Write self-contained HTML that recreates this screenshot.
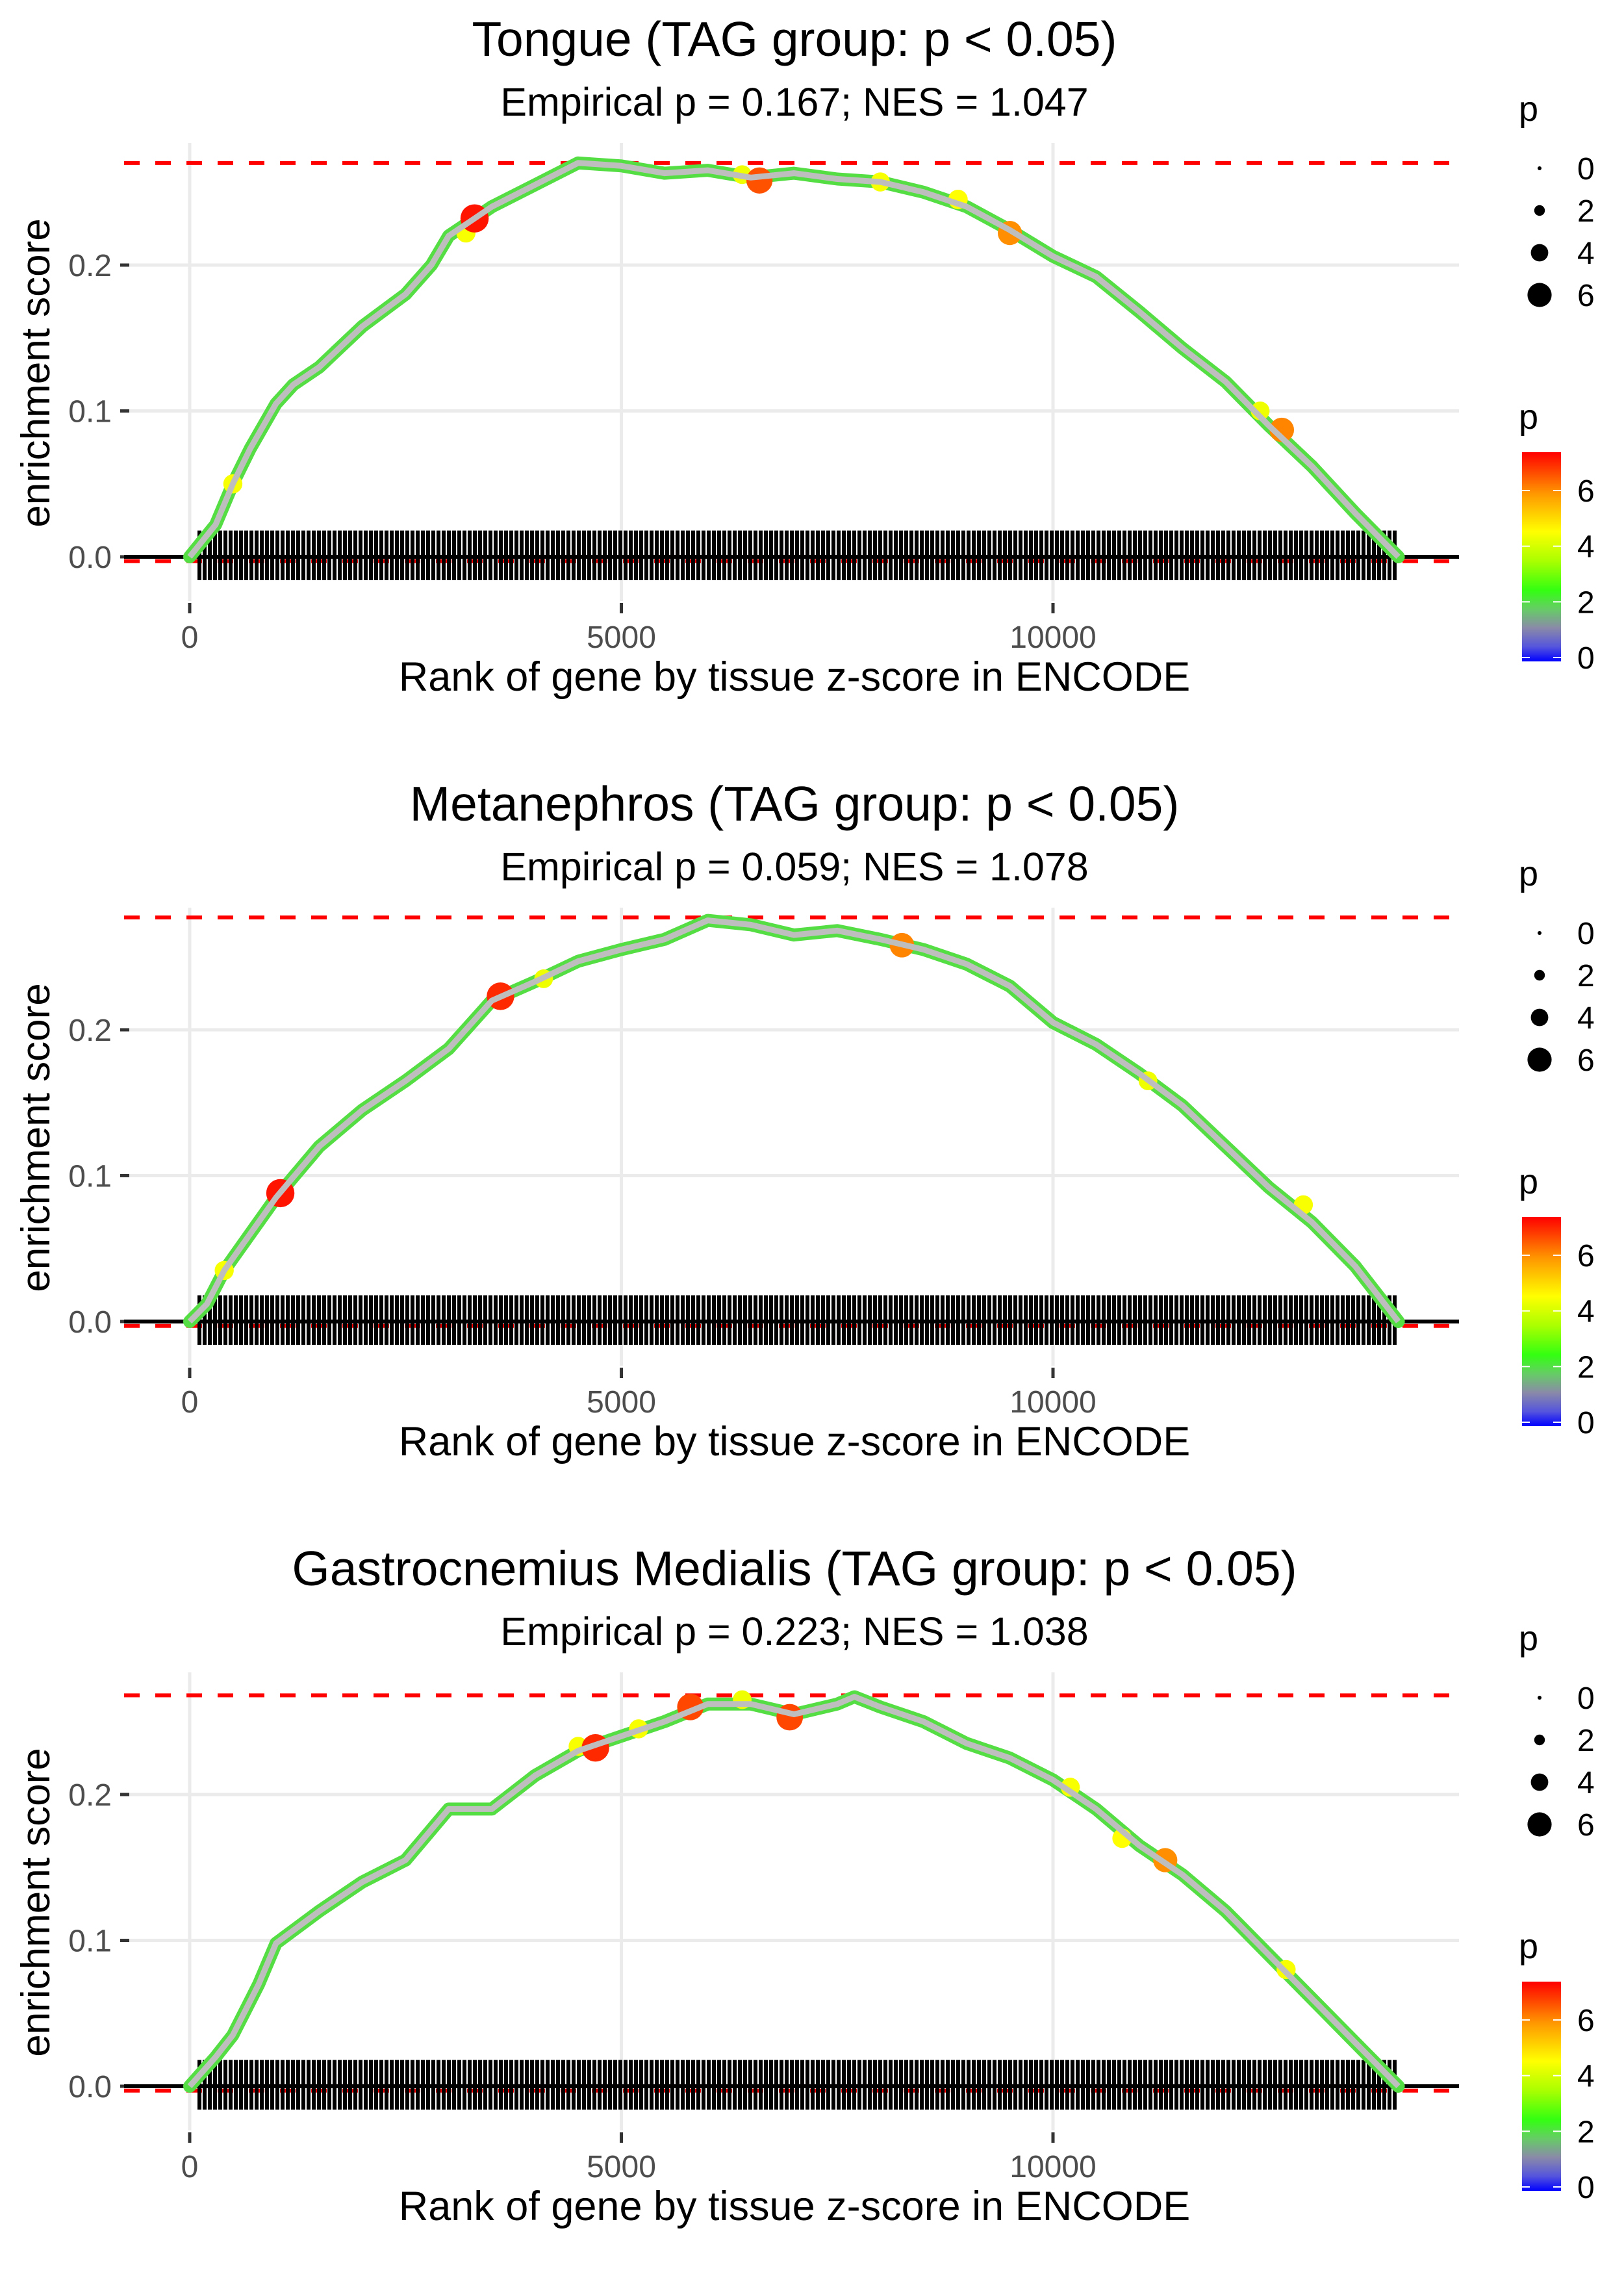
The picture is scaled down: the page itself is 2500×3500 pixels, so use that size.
<!DOCTYPE html>
<html><head><meta charset="utf-8"><style>
html,body{margin:0;padding:0;background:#fff;}
svg{display:block;font-family:"Liberation Sans",sans-serif;}
</style></head><body>
<svg id="fig" width="2500" height="3500" viewBox="0 0 2500 3500" xmlns="http://www.w3.org/2000/svg">
<defs>
<linearGradient id="pgrad" x1="0" y1="1" x2="0" y2="0">
<stop offset="0" stop-color="#0000ff"/>
<stop offset="0.07" stop-color="#5555dd"/>
<stop offset="0.16" stop-color="#8a8aa8"/>
<stop offset="0.25" stop-color="#66cc66"/>
<stop offset="0.34" stop-color="#33ff11"/>
<stop offset="0.48" stop-color="#aaff00"/>
<stop offset="0.62" stop-color="#ffff00"/>
<stop offset="0.8" stop-color="#ff9900"/>
<stop offset="1" stop-color="#ff0000"/>
</linearGradient>
<pattern id="rugpat" width="8" height="10" patternUnits="userSpaceOnUse">
<rect x="0" y="0" width="6" height="10" fill="#000"/>
</pattern>
</defs>
</svg>
<script>
// ---- data ----
const panelTitles = ["Tongue (TAG group: p < 0.05)","Metanephros (TAG group: p < 0.05)","Gastrocnemius Medialis (TAG group: p < 0.05)"];
const panelSubtitles = ["Empirical p = 0.167; NES = 1.047","Empirical p = 0.059; NES = 1.078","Empirical p = 0.223; NES = 1.038"];
const maxES = [0.270, 0.277, 0.268];
const minES = [-0.003, -0.003, -0.003];
const ranks1 = [0,300,500,700,1000,1200,1500,2000,2500,2800,3000,3300,3500,4000,4500,5000,5500,6000,6500,7000,7500,8000,8500,9000,9500,10000,10500,11000,11500,12000,12500,13000,13500,14000];
const es1 = [0,0.022,0.05,0.074,0.105,0.118,0.13,0.158,0.18,0.2,0.22,0.232,0.24,0.255,0.27,0.268,0.263,0.265,0.26,0.263,0.259,0.257,0.25,0.24,0.224,0.206,0.192,0.168,0.143,0.12,0.09,0.062,0.03,0];
const ranks2 = [0,200,400,700,1000,1500,2000,2500,3000,3500,4000,4500,5000,5500,6000,6500,7000,7500,8000,8500,9000,9500,10000,10500,11000,11500,12000,12500,13000,13500,14000];
const es2 = [0,0.012,0.035,0.06,0.085,0.12,0.145,0.165,0.187,0.22,0.233,0.247,0.255,0.262,0.275,0.272,0.265,0.268,0.262,0.255,0.245,0.23,0.205,0.19,0.17,0.148,0.12,0.092,0.068,0.038,0];
const ranks3 = [0,300,500,800,1000,1500,2000,2500,3000,3500,4000,4500,5000,5500,6000,6500,7000,7500,7700,8000,8500,9000,9500,10000,10500,11000,11500,12000,12500,13000,13500,14000];
const es3 = [0,0.02,0.035,0.07,0.098,0.12,0.14,0.155,0.19,0.19,0.213,0.23,0.24,0.25,0.262,0.262,0.255,0.262,0.267,0.26,0.25,0.235,0.225,0.21,0.19,0.165,0.145,0.12,0.09,0.06,0.03,0];
const bigRanks = [[500,3200,6400,8000,8900,12400,3300,6600,9500,12650],[400,4100,11100,12900,1050,3600,8250],[4500,5200,6400,10200,10800,12700,4700,5800,6950,11300]];
const bigES = [[0.05,0.222,0.262,0.257,0.245,0.1,0.232,0.258,0.222,0.087],[0.035,0.235,0.165,0.08,0.088,0.223,0.258],[0.233,0.245,0.265,0.205,0.17,0.08,0.232,0.26,0.253,0.155]];
const bigP = [[4.5,4.5,4.4,4.5,4.6,4.4,7.2,6.6,6.0,6.1],[4.5,4.4,4.4,4.5,7.2,7.0,6.1],[4.5,4.5,4.4,4.5,4.6,4.5,7.0,6.7,6.7,6.0]];
const yTicks = [0, 0.1, 0.2];
const yTickLabels = ["0.0","0.1","0.2"];
const xTicks = [0, 5000, 10000];
const xTickLabels = ["0","5000","10000"];
const sizeLegendValues = [0,2,4,6];
const colorLegendValues = [0,2,4,6];
const rugStart = 80, rugEnd = 13980;
// ---- layout ----
const NS = "http://www.w3.org/2000/svg";
const svg = document.getElementById('fig');
const PANEL_DY = 1177;
const X0 = 292, XPER = (1621-292)/10000;
const Y0 = 857, YPER = 2245;
function sx(r){ return X0 + r*XPER; }
function sy(v, p){ return Y0 + p*PANEL_DY - v*YPER; }
function mk(tag, attrs, parent){ const e = document.createElementNS(NS, tag); for (const k in attrs) e.setAttribute(k, attrs[k]); (parent||svg).appendChild(e); return e; }
function pColor(p){
  const stops=[[0,[0,0,255]],[1,[138,138,168]],[2,[102,204,102]],[2.5,[51,255,17]],[3.5,[170,255,0]],[4.6,[255,255,0]],[5.9,[255,153,0]],[7.4,[255,0,0]]];
  for (let i=1;i<stops.length;i++){ if (p<=stops[i][0]){ const a=stops[i-1],b=stops[i],t=(p-a[0])/(b[0]-a[0]); return 'rgb('+a[1].map((c,j)=>Math.round(c+(b[1][j]-c)*t)).join(',')+')'; } }
  return 'rgb(255,0,0)';
}
const allRanks=[ranks1,ranks2,ranks3], allES=[es1,es2,es3];
for (let p=0;p<3;p++){
  const g = mk('g',{});
  
  
  const oy = p*PANEL_DY;
  let t = mk('text',{x:1223,y:86+oy,'font-size':75,'text-anchor':'middle',fill:'#000'},g);
  t.textContent = panelTitles[p];
  
  
  t = mk('text',{x:1223,y:178+oy,'font-size':61,'text-anchor':'middle',fill:'#000'},g);
  t.textContent = panelSubtitles[p];
  
  
  yTicks.forEach((v,i)=>{
    const l = mk('line',{x1:191,x2:2246,y1:sy(v,p),y2:sy(v,p),stroke:'#ebebeb','stroke-width':5},g);
    
    
    mk('line',{x1:185,x2:199,y1:sy(v,p),y2:sy(v,p),stroke:'#333','stroke-width':5},g);
    const tl = mk('text',{x:172,y:sy(v,p)+17,'font-size':48,'text-anchor':'end',fill:'#4d4d4d'},g);
    tl.textContent = yTickLabels[i];
    
    
  });
  xTicks.forEach((v,i)=>{
    const l = mk('line',{x1:sx(v),x2:sx(v),y1:220+oy,y2:925+oy,stroke:'#ebebeb','stroke-width':5},g);
    
    
    mk('line',{x1:sx(v),x2:sx(v),y1:928+oy,y2:944+oy,stroke:'#333','stroke-width':5},g);
    const tl = mk('text',{x:sx(v),y:997+oy,'font-size':48,'text-anchor':'middle',fill:'#4d4d4d'},g);
    tl.textContent = xTickLabels[i];
    
    
  });
  [maxES[p],minES[p]].forEach(v=>{
    const l = mk('line',{x1:191,x2:2246,y1:sy(v,p),y2:sy(v,p),stroke:'#ff0000','stroke-width':6,'stroke-dasharray':'24 24'},g);
    
    
  });
  const rug = mk('rect',{x:sx(rugStart),y:sy(0.018,p),width:sx(rugEnd)-sx(rugStart),height:sy(-0.016,p)-sy(0.018,p),fill:'url(#rugpat)'},g);
  
  
  const zl = mk('line',{x1:191,x2:2246,y1:sy(0,p),y2:sy(0,p),stroke:'#000','stroke-width':6},g);
  
  
  const d = allRanks[p].map((r,i)=>(i?'L':'M')+sx(r).toFixed(1)+','+sy(allES[p][i],p).toFixed(1)).join(' ');
  const c1 = mk('path',{d:d,fill:'none',stroke:'#55dd44','stroke-width':20,'stroke-linejoin':'round','stroke-linecap':'round'},g);
  
  
  bigRanks[p].forEach((r,i)=>{
    const pv = bigP[p][i];
    const e = mk('ellipse',{cx:sx(r),cy:sy(bigES[p][i],p),rx:3+pv*2.6,ry:3+pv*2.6,fill:pColor(pv)},g);
    
    
  });
  const c2 = mk('path',{d:d,fill:'none',stroke:'#bebebe','stroke-width':9,'stroke-linejoin':'round'},g);
  
  
  t = mk('text',{x:1223,y:1063+oy,'font-size':63,'text-anchor':'middle',fill:'#000'},g);
  t.textContent = 'Rank of gene by tissue z-score in ENCODE';
  
  
  t = mk('text',{x:0,y:0,'font-size':62,'text-anchor':'middle',fill:'#000',transform:'translate(76,'+(574+oy)+') rotate(-90)'},g);
  t.textContent = 'enrichment score';
  
  
  t = mk('text',{x:2338,y:186+oy,'font-size':54,fill:'#000'},g);
  t.textContent = 'p';
  
  
  sizeLegendValues.forEach((v,i)=>{
    const cy = 259 + i*65 + oy;
    const e = mk('ellipse',{cx:2370,cy:cy,rx:3+v*2.6,ry:3+v*2.6,fill:'#000'},g);
    
    
    const tl = mk('text',{x:2428,y:cy+17,'font-size':48,fill:'#000'},g);
    tl.textContent = v;
    
    
  });
  t = mk('text',{x:2338,y:660+oy,'font-size':54,fill:'#000'},g);
  t.textContent = 'p';
  
  
  const cb = mk('rect',{x:2343,y:696+oy,width:60,height:322,fill:'url(#pgrad)'},g);
  
  
  colorLegendValues.forEach(v=>{
    const cy = 1012 + oy - v*(257/6);
    mk('line',{x1:2343,x2:2355,y1:cy,y2:cy,stroke:'#fff','stroke-width':2},g);
    mk('line',{x1:2391,x2:2403,y1:cy,y2:cy,stroke:'#fff','stroke-width':2},g);
    const tl = mk('text',{x:2428,y:cy+17,'font-size':48,fill:'#000'},g);
    tl.textContent = v;
    
    
  });
}
</script>
</body></html>
